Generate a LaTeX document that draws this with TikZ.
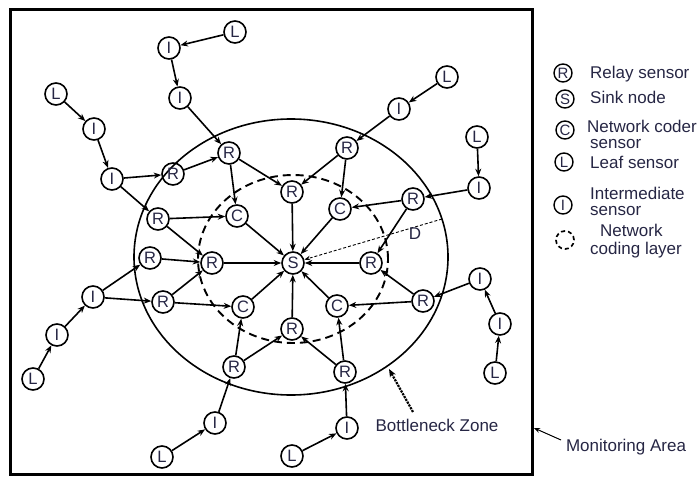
\documentclass[tikz,border=0pt]{standalone}
\usepackage{fontspec}
\setmainfont{Liberation Sans}
\usetikzlibrary{arrows.meta}
\definecolor{txt}{RGB}{38,38,68}
\begin{document}
\begin{tikzpicture}[x=1pt,y=-1pt,
  nd/.style={circle,draw,line width=1.6pt,minimum size=22pt,inner sep=0pt,font=\fontsize{16.5}{16.5}\selectfont,text=txt},
  lg/.style={circle,draw,line width=1.4pt,minimum size=18pt,inner sep=0pt,font=\fontsize{15}{15}\selectfont,text=txt},
  ed/.style={line width=1.6pt,-{Stealth[length=7.5pt,width=6pt]}},
  lab/.style={font=\fontsize{17}{17}\selectfont,text=txt,inner sep=0pt},
  lgt/.style={lab,anchor=west}]
\useasboundingbox (0,0) rectangle (700,476);
% frame and zones
\draw[line width=3pt] (10,10) rectangle (532,474.5);
\draw[line width=1.6pt] (291,257) ellipse [x radius=157pt, y radius=138pt];
\draw[line width=1.9pt,dash pattern=on 8pt off 5pt] (293,259) ellipse [x radius=95pt, y radius=84pt];
% nodes
\node[nd] (L1) at (235,32) {L};
\node[nd] (I1) at (169,48) {I};
\node[nd] (I2) at (180,98) {I};
\node[nd] (L2) at (56,94) {L};
\node[nd] (I3) at (94,129) {I};
\node[nd] (I4) at (112,179) {I};
\node[nd] (R1) at (173,174) {R};
\node[nd] (R2) at (229,153) {R};
\node[nd] (R3) at (292,192) {R};
\node[nd] (C1) at (237,216) {C};
\node[nd] (R4) at (158,219) {R};
\node[nd] (R5) at (347,148) {R};
\node[nd] (L3) at (447,77) {L};
\node[nd] (I5) at (399,109) {I};
\node[nd] (C2) at (340,209) {C};
\node[nd] (R6) at (413,199) {R};
\node[nd] (L4) at (477,137) {L};
\node[nd] (I6) at (479,188) {I};
\node[nd] (R7) at (150,258) {R};
\node[nd] (R8) at (212,263) {R};
\node[nd] (S) at (293,263) {S};
\node[nd] (I7) at (93,297) {I};
\node[nd] (R9) at (163,302) {R};
\node[nd] (C3) at (243,307) {C};
\node[nd] (C4) at (337,306) {C};
\node[nd] (R10) at (292,329) {R};
\node[nd] (I8) at (57,335) {I};
\node[nd] (L5) at (33,379) {L};
\node[nd] (R11) at (234,367) {R};
\node[nd] (R12) at (345,372) {R};
\node[nd] (I9) at (215,423) {I};
\node[nd] (L6) at (162,457) {L};
\node[nd] (L7) at (292,456) {L};
\node[nd] (I10) at (347,428) {I};
\node[nd] (R13) at (371,263) {R};
\node[nd] (R14) at (423,301) {R};
\node[nd] (I11) at (480,279) {I};
\node[nd] (I12) at (500,324) {I};
\node[nd] (L8) at (495,373) {L};
% edges
\draw[ed] (L1) -- (I1);
\draw[ed] (I1) -- (I2);
\draw[ed] (I2) -- (R2);
\draw[ed] (L2) -- (I3);
\draw[ed] (I3) -- (I4);
\draw[ed] (I4) -- (R1);
\draw[ed] (I4) -- (R4);
\draw[ed] (R1) -- (R2);
\draw[ed] (R2) -- (C1);
\draw[ed] (R2) -- (R3);
\draw[ed] (R4) -- (C1);
\draw[ed] (R4) -- (R8);
\draw[ed] (C1) -- (S);
\draw[ed] (L3) -- (I5);
\draw[ed] (I5) -- (R5);
\draw[ed] (R5) -- (R3);
\draw[ed] (R5) -- (C2);
\draw[ed] (R3) -- (S);
\draw[ed] (C2) -- (S);
\draw[ed] (L4) -- (I6);
\draw[ed] (I6) -- (R6);
\draw[ed] (R6) -- (C2);
\draw[ed] (R6) -- (R13);
\draw[ed] (I7) -- (R7);
\draw[ed] (I7) -- (R9);
\draw[ed] (R7) -- (R8);
\draw[ed] (R8) -- (S);
\draw[ed] (R9) -- (R8);
\draw[ed] (R9) -- (C3);
\draw[ed] (C3) -- (S);
\draw[ed] (R10) -- (S);
\draw[ed] (L5) -- (I8);
\draw[ed] (I8) -- (I7);
\draw[ed] (L6) -- (I9);
\draw[ed] (I9) -- (R11);
\draw[ed] (R11) -- (C3);
\draw[ed] (R11) -- (R10);
\draw[ed] (L7) -- (I10);
\draw[ed] (I10) -- (R12);
\draw[ed] (R12) -- (C4);
\draw[ed] (R12) -- (R10);
\draw[ed] (C4) -- (S);
\draw[ed] (R13) -- (S);
\draw[ed] (R14) -- (C4);
\draw[ed] (R14) -- (R13);
\draw[ed] (I11) -- (R14);
\draw[ed] (I12) -- (I11);
\draw[ed] (L8) -- (I12);
% radius D
\coordinate (Dend) at (442,219);
\draw[line width=0.9pt,densely dashed,-{Stealth[length=6pt,width=4.5pt]}] (Dend) -- (S);
\node[lab] (D) at (415,234) {D};
% bottleneck label
\node[lab] (bz) at (437,425) {Bottleneck Zone};
\coordinate (bz1) at (413,412);
\coordinate (bz2) at (389,369);
\draw[line width=2.2pt,densely dotted,-{Stealth[length=8pt,width=6.5pt]}] (bz1) -- (bz2);
% monitoring area
\node[lab] (ma) at (626,447) {Monitoring Area};
\coordinate (ma1) at (561,440);
\coordinate (ma2) at (534,428);
\draw[line width=1pt,-{Stealth[length=6pt,width=5pt]}] (ma1) -- (ma2);
% legend
\node[lg] (gR) at (563,73) {R};
\node[lg] (gS) at (565,99) {S};
\node[lg] (gC) at (565,130) {C};
\node[lg] (gL) at (564,162) {L};
\node[lg] (gI) at (563,205) {I};
\node[lg,line width=1.7pt,dash pattern=on 4pt off 3pt] (gN) at (565,240) {};
\node[lgt] (tR) at (590,74) {Relay sensor};
\node[lgt] (tS) at (590,97) {Sink node};
\node[lgt] (tC1) at (587,126) {Network coder};
\node[lgt] (tC2) at (590,144) {sensor};
\node[lgt] (tL) at (590,162) {Leaf sensor};
\node[lgt] (tI1) at (590,193) {Intermediate};
\node[lgt] (tI2) at (590,211) {sensor};
\node[lgt] (tN1) at (600,230) {Network};
\node[lgt] (tN2) at (590,250) {coding layer};
\end{tikzpicture}
\end{document}
